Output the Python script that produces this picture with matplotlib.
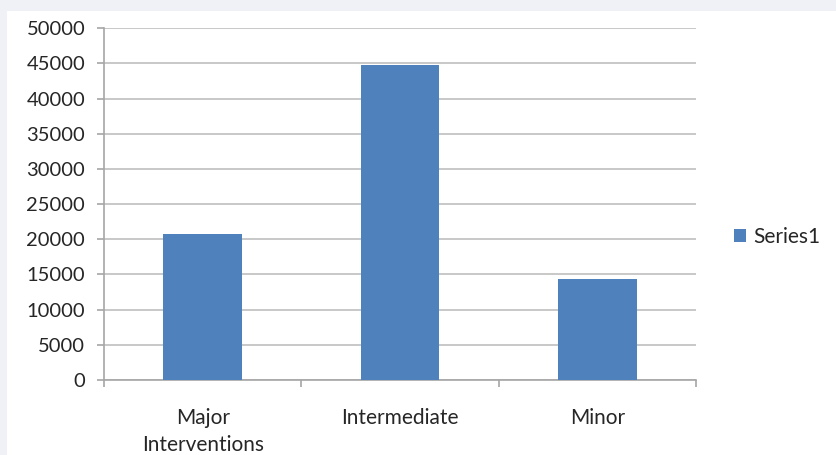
import matplotlib.pyplot as plt
from matplotlib.patches import Rectangle
import numpy as np

categories = ['Major\nInterventions', 'Intermediate', 'Minor']
values = [20700, 44800, 14300]
series_name = 'Series1'

plt.rcParams['font.family'] = ['Lato', 'DejaVu Sans']

W, H = 837, 455
fig = plt.figure(figsize=(W / 100, H / 100), dpi=100, facecolor='#f0f1f7')
# white panel
fig.patches.append(Rectangle((7 / W, 0), 1, 1 - 11 / H, transform=fig.transFigure,
                             facecolor='white', edgecolor='none', zorder=-10))

ax = fig.add_axes([104 / W, (H - 380) / H, (696 - 104) / W, (380 - 28.3) / H])
ax.set_facecolor('none')

x = np.arange(len(categories))
bars = ax.bar(x, values, width=0.4, color='#4f81bd', zorder=3, label=series_name)

ax.set_xlim(-0.5, len(categories) - 0.5)
ax.set_ylim(0, 50000)
ax.set_yticks(np.arange(0, 50001, 5000))
ax.yaxis.grid(True, color='#bfbfbf', linewidth=1.2)
ax.set_axisbelow(True)

for s in ['top', 'right']:
    ax.spines[s].set_visible(False)
for s in ['left', 'bottom']:
    ax.spines[s].set_color('#a6a6a6')
    ax.spines[s].set_linewidth(1.2)

ax.tick_params(axis='y', length=5, width=1.2, color='#a6a6a6', pad=8.5,
               labelsize=14.5, labelcolor='#262626')
ax.set_xticks(x)
ax.set_xticklabels(categories, linespacing=1.45)
ax.set_xticks(np.arange(-0.5, len(categories), 1), minor=True)
ax.tick_params(axis='x', which='major', length=0, pad=20, labelsize=15,
               labelcolor='#262626')
ax.tick_params(axis='x', which='minor', length=5, width=1.2, color='#a6a6a6')

fig.legend(handles=[bars], labels=[series_name], loc='center left',
           bbox_to_anchor=(715 / W, 1 - 237 / H), frameon=False, fontsize=15,
           handlelength=0.6, handleheight=0.6, handletextpad=0.35,
           labelcolor='#262626')

fig.savefig('out.png', dpi=100, facecolor=fig.get_facecolor())
